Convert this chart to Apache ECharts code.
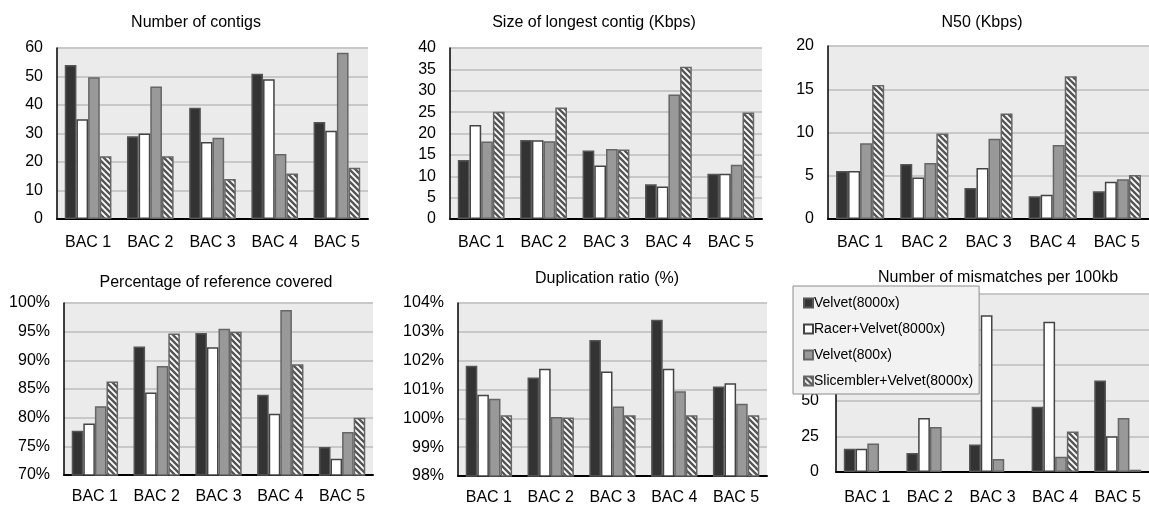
<!DOCTYPE html>
<html><head><meta charset="utf-8">
<script src="https://cdn.jsdelivr.net/npm/echarts@6/dist/echarts.min.js"></script>
<style>html,body{margin:0;padding:0;background:#fff}#c{width:1149px;height:506px}</style>
</head><body><div id="c"></div>
<script>
const categories = ['BAC 1','BAC 2','BAC 3','BAC 4','BAC 5'];
const seriesNames = ['Velvet(8000x)','Racer+Velvet(8000x)','Velvet(800x)','Slicembler+Velvet(8000x)'];
const titles = ['Number of contigs','Size of longest contig (Kbps)','N50 (Kbps)','Percentage of reference covered','Duplication ratio (%)','Number of mismatches per 100kb'];

// Number of contigs
const contigs_v8000 = [54, 29, 39, 51, 34];
const contigs_racer = [35, 30, 27, 49, 31];
const contigs_v800  = [49.7, 46.5, 28.5, 22.8, 58.3];
const contigs_slic  = [22, 22, 14, 16, 18];
// Size of longest contig (Kbps)
const longest_v8000 = [13.8, 18.5, 16.0, 8.1, 10.6];
const longest_racer = [22.0, 18.4, 12.5, 7.6, 10.6];
const longest_v800  = [18.1, 18.2, 16.4, 29.1, 12.7];
const longest_slic  = [25.1, 26.1, 16.25, 35.6, 24.9];
// N50 (Kbps)
const n50_v8000 = [5.55, 6.36, 3.58, 2.62, 3.2];
const n50_racer = [5.55, 4.8, 5.9, 2.81, 4.3];
const n50_v800  = [8.75, 6.47, 9.29, 8.55, 4.6];
const n50_slic  = [15.5, 9.87, 12.2, 16.5, 5.1];
// Percentage of reference covered (%)
const cov_v8000 = [77.7, 92.4, 94.75, 84.0, 74.9];
const cov_racer = [79.0, 84.4, 92.3, 80.7, 72.85];
const cov_v800  = [82.0, 89.0, 95.5, 98.8, 77.5];
const cov_slic  = [86.3, 94.7, 95.0, 89.3, 80.0];
// Duplication ratio (%)
const dup_v8000 = [101.82, 101.42, 102.72, 103.42, 101.1];
const dup_racer = [100.82, 101.72, 101.62, 101.72, 101.22];
const dup_v800  = [100.68, 100.05, 100.41, 100.94, 100.51];
const dup_slic  = [100.11, 100.03, 100.11, 100.11, 100.11];
// Number of mismatches per 100kb
const mis_v8000 = [16.3, 13.3, 19.3, 45.8, 64.2];
const mis_racer = [16.3, 37.9, 110, 105.6, 25.1];
const mis_v800  = [20, 31.6, 9.1, 10.7, 37.9];
const mis_slic  = [0, 0, 0, 28.4, 1.6];

// axis ranges: [min, max, interval, suffix]
const axisRanges = [[0,60,10,''],[0,40,5,''],[0,20,5,''],[70,100,5,'%'],[98,104,1,'%'],[0,125,25,'']];

const panels = [
  [contigs_v8000, contigs_racer, contigs_v800, contigs_slic],
  [longest_v8000, longest_racer, longest_v800, longest_slic],
  [n50_v8000, n50_racer, n50_v800, n50_slic],
  [cov_v8000, cov_racer, cov_v800, cov_slic],
  [dup_v8000, dup_racer, dup_v800, dup_slic],
  [mis_v8000, mis_racer, mis_v800, mis_slic]
];

function hatch(){
  const c=document.createElement('canvas'); c.width=6; c.height=6;
  const g=c.getContext('2d');
  g.fillStyle='#ffffff'; g.fillRect(0,0,6,6);
  g.strokeStyle='#555555'; g.lineWidth=2.4; g.lineCap='square';
  g.beginPath();
  g.moveTo(-2,-2); g.lineTo(8,8);
  g.moveTo(-2,4); g.lineTo(2,8);
  g.moveTo(4,-2); g.lineTo(8,2);
  g.stroke();
  return c;
}
const hatchPattern = {image: hatch(), repeat: 'repeat'};
const styles = [
  {color:'#333333', borderColor:'#555555', borderWidth:1.5},
  {color:'#ffffff', borderColor:'#444444', borderWidth:1.5},
  {color:'#999999', borderColor:'#666666', borderWidth:1.5},
  {color:hatchPattern, borderColor:'#666666', borderWidth:1.5}
];

const grids = [
  {left:57, top:48, width:311, height:171},
  {left:450, top:48, width:312, height:171},
  {left:828, top:46, width:321, height:173},
  {left:64, top:303, width:309, height:172},
  {left:458, top:303, width:309, height:173},
  {left:836, top:294, width:313, height:180}
];
const titlePos = [[191,10],[589,10],[977,10],[211,270],[602,266],[993,265]];
const labelMargins = [[16,14],[16,14],[16,14],[14,14],[14,14],[18,17]];

const FONT = 'Liberation Sans, Arial, sans-serif';
const option = {
  animation:false,
  backgroundColor:'#ffffff',
  title: titles.map((t,i)=>({text:t, left:titlePos[i][0], top:titlePos[i][1], textAlign:'center',
    textStyle:{fontFamily:FONT, fontSize:16, fontWeight:'normal', color:'#000'}})),
  legend:{
    data: seriesNames, orient:'vertical', left:793, top:286, z:100,
    backgroundColor:'#f2f2f2', borderColor:'#8c8c8c', borderWidth:1,
    padding:[10,6,6,10], itemGap:12, itemWidth:9, itemHeight:9, icon:'rect',
    textStyle:{fontFamily:FONT, fontSize:14, color:'#000', padding:[0,0,0,-4]}
  },
  grid: grids.map(g=>Object.assign({show:true, backgroundColor:'#ebebeb', borderWidth:0}, g)),
  xAxis: grids.map((g,i)=>({type:'category', gridIndex:i, data:categories,
    axisLine:{show:true, lineStyle:{color:'#000', width:2}}, axisTick:{show:false},
    axisLabel:{fontFamily:FONT, fontSize:16, color:'#000', margin:labelMargins[i][0]}})),
  yAxis: grids.map((g,i)=>({type:'value', gridIndex:i, min:axisRanges[i][0], max:axisRanges[i][1], interval:axisRanges[i][2],
    axisLine:{show:true, lineStyle:{color:'#000', width:1.5}}, axisTick:{show:false},
    splitLine:{show:true, lineStyle:{color:'#c8c8c8', width:2}},
    axisLabel:{fontFamily:FONT, fontSize:16, color:'#000', margin:labelMargins[i][1], formatter:'{value}'+axisRanges[i][3]}})),
  series: []
};
panels.forEach((p,i)=>{
  p.forEach((arr,k)=>{
    option.series.push({type:'bar', name:seriesNames[k], xAxisIndex:i, yAxisIndex:i,
      data: arr.map(v => v === 0 ? {value:v, itemStyle:{borderWidth:0, opacity:0}} : v),
      barGap:'0%', barCategoryGap:'25%', itemStyle:styles[k], emphasis:{disabled:true}});
  });
});
const chart = echarts.init(document.getElementById('c'));
chart.setOption(option);
</script></body></html>
